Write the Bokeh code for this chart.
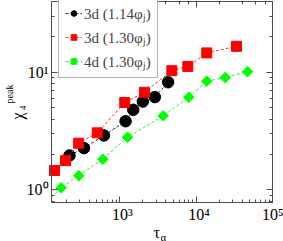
import math
from bokeh.plotting import figure
from bokeh.models import (LogAxis, LogTicker, FixedTicker, CustomJSTickFormatter,
                          Legend, LegendItem, Label, Range1d)
from bokeh.embed import file_html
from bokeh.resources import INLINE

# ---- data ----
black_tau = [220, 340, 620, 1190, 1500, 2000, 2870, 4280]
black_chi = [1.96, 2.26, 2.90, 3.83, 4.79, 5.63, 6.14, 8.22]

red_tau = [140, 195, 290, 507, 1160, 2100, 4790, 7750, 13700, 33500]
red_chi = [1.46, 1.77, 2.49, 3.05, 5.52, 6.76, 10.3, 11.2, 14.6, 16.6]

# first entry: where the green line leaves the left edge of the box
green_tau = [128, 171, 291, 600, 1260, 3690, 7980, 13700, 23900, 46700]
green_chi = [0.865, 1.04, 1.32, 1.82, 2.80, 4.26, 6.13, 8.38, 9.01, 10.1]

series_labels = ["3d (1.14\u03c6\u2c7c)", "3d (1.30\u03c6\u2c7c)", "4d (1.30\u03c6\u2c7c)"]

x_ticks = [1e3, 1e4, 1e5]
x_tick_labels = ["10\u00b3", "10\u2074", "10\u2075"]
y_ticks = [1, 10]
y_tick_labels = ["10\u2070", "10\u00b9"]

# visible axis box (data limits)
x_lo, x_hi = 128, 1e5
y_lo, y_hi = 0.78, 39.9

# log minor ticks for the y axes (2..9 times each decade, inside the box)
y_minor = [m * 10.0 ** e for e in (-1, 0, 1) for m in range(2, 10)
           if y_lo <= m * 10.0 ** e <= y_hi]

FONT = "Liberation Serif"
AXC = "#4d4d4d"

p = figure(width=283, height=241, x_axis_type="log", y_axis_type="log",
           x_range=Range1d(27.57, 1.38e5), y_range=Range1d(0.3634, 40.72),
           output_backend="svg", toolbar_location=None,
           min_border=0, min_border_left=0, min_border_right=0,
           min_border_top=0, min_border_bottom=0)
p.grid.visible = False
p.outline_line_color = None
p.background_fill_color = "white"
p.border_fill_color = "white"


def fmt(tv, tl, pad):
    return CustomJSTickFormatter(args=dict(tv=tv, tl=tl, pad=pad), code="""
const i = tv.findIndex(t => Math.abs(Math.log10(t) - Math.log10(tick)) < 1e-6);
return i >= 0 ? pad + tl[i] : "";
""")


def style(ax, show_labels):
    ax.axis_line_color = AXC
    ax.major_tick_line_color = AXC
    ax.minor_tick_line_color = AXC
    ax.major_tick_in = 6
    ax.major_tick_out = 0
    ax.minor_tick_in = 3
    ax.minor_tick_out = 0
    ax.major_label_text_font = FONT
    ax.major_label_text_color = "black"
    ax.major_label_text_font_size = "16px"
    if show_labels:
        ax.major_label_standoff = 3
    else:
        ax.major_label_text_alpha = 0
        ax.major_label_standoff = 0


bottom = p.xaxis[0]
left = p.yaxis[0]
style(bottom, True)
style(left, True)
bottom.formatter = fmt(x_ticks, x_tick_labels, "\u2004")
left.formatter = fmt(y_ticks, y_tick_labels, "")
left.ticker = FixedTicker(ticks=y_ticks, minor_ticks=y_minor)
bottom.fixed_location = y_lo
bottom.bounds = (x_lo, x_hi)
left.fixed_location = x_lo
left.bounds = (y_lo, y_hi)
bottom.major_label_standoff = 4

top = LogAxis(ticker=LogTicker(), fixed_location=y_hi, bounds=(x_lo, x_hi))
right = LogAxis(ticker=FixedTicker(ticks=y_ticks, minor_ticks=y_minor),
                fixed_location=x_hi, bounds=(y_lo, y_hi))
style(top, False)
style(right, False)
p.add_layout(top, "above")
p.add_layout(right, "right")

dash = "3 2"
lb = p.line(black_tau, black_chi, line_color="#333333", line_dash=dash, line_width=1)
sb = p.scatter(black_tau, black_chi, marker="circle", size=11.5, fill_color="black",
               line_color="black")
lr = p.line(red_tau, red_chi, line_color="#ff3333", line_dash=dash, line_width=1)
sr = p.scatter(red_tau, red_chi, marker="square", size=10, fill_color="#ff0000",
               line_color="#ff0000")
lg = p.line(green_tau, green_chi, line_color="#33ee33", line_dash=dash, line_width=1)
sg = p.scatter(green_tau[1:], green_chi[1:], marker="square", size=7.5,
               angle=math.pi / 4, fill_color="#00ff00", line_color="#00ff00")

legend = Legend(items=[
    LegendItem(label=series_labels[0], renderers=[lb, sb]),
    LegendItem(label=series_labels[1], renderers=[lr, sr]),
    LegendItem(label=series_labels[2], renderers=[lg, sg]),
], location=(58, 163))
legend.label_text_font = FONT
legend.label_text_font_size = "15px"
legend.glyph_width = 17
legend.glyph_height = 14
legend.label_standoff = 2
legend.spacing = 4
legend.padding = 6
legend.margin = 0
legend.border_line_color = "#666666"
legend.border_line_width = 1
legend.background_fill_color = "white"
legend.background_fill_alpha = 1
p.add_layout(legend, "center")


# axis titles (screen units: from the left / from the bottom of the canvas)
def lab(x, y, text, size, angle=0):
    p.add_layout(Label(x=x, y=y, x_units="screen", y_units="screen", text=text,
                       text_font=FONT, text_font_size=size, text_color="black",
                       text_align="left", text_baseline="alphabetic", angle=angle))


lab(153, 9.5, "\u03c4", "16px")
lab(160, 5, "\u03b1", "11px")
lab(17, 122, "\u03c7", "16px", math.pi / 2)
lab(22.5, 131.5, "4", "9px", math.pi / 2)
lab(9, 138, "peak", "10px", math.pi / 2)

open("out.html", "w").write(file_html(p, INLINE))
